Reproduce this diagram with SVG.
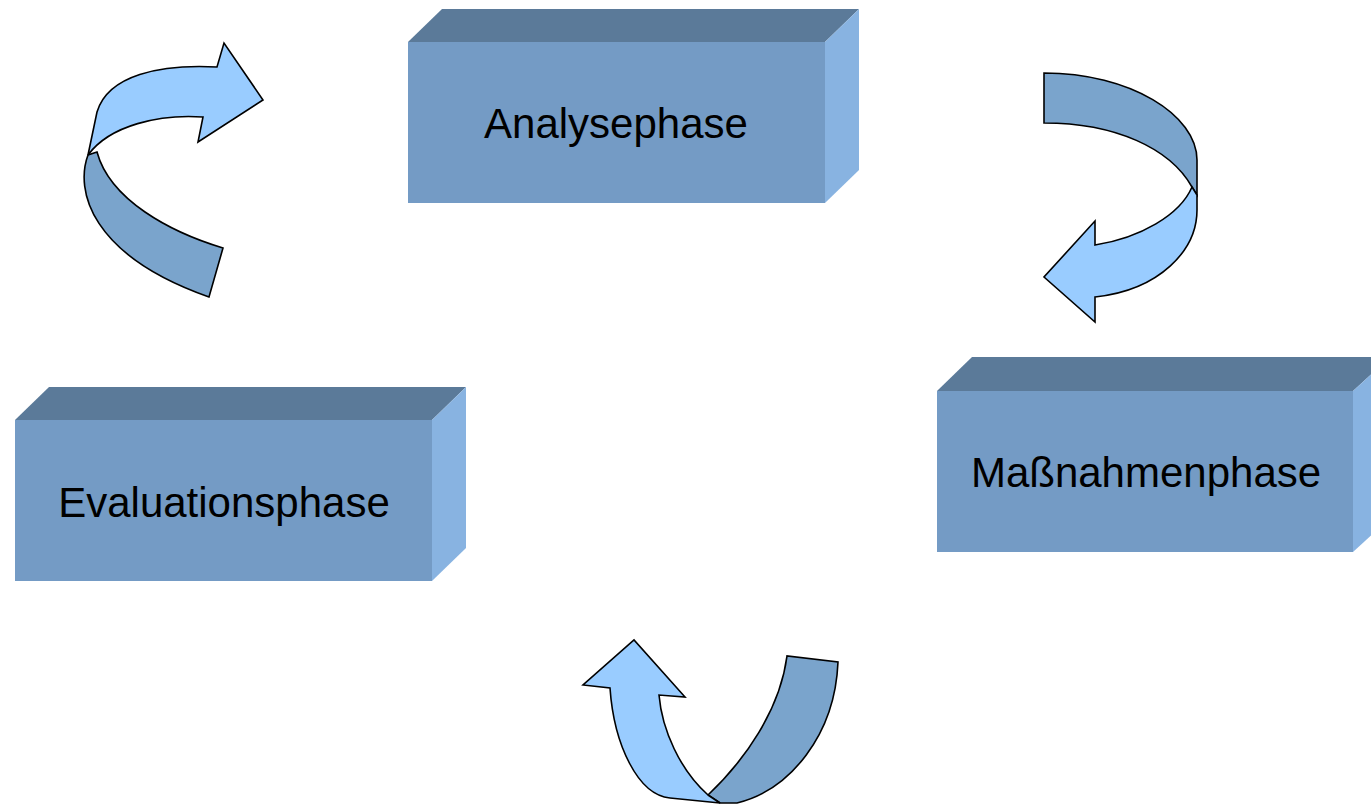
<svg xmlns="http://www.w3.org/2000/svg" width="1371" height="805" viewBox="0 0 1371 805">
<style>
.front{fill:#749BC5}
.top{fill:#5B7A99}
.side{fill:#88B3E1}
.lbl{font-family:"Liberation Sans",Arial,sans-serif;font-size:42px;fill:#000;text-anchor:middle}
.lt{fill:#99CCFF;stroke:#000;stroke-width:1.6;stroke-linejoin:miter}
.dk{fill:#7AA4CC;stroke:#000;stroke-width:1.6;stroke-linejoin:miter}
</style>
<rect width="1371" height="805" fill="#fff"/>
<g id="analysephase">
<polygon class="top" points="408,42 442,9 859,9 825,42"/>
<polygon class="side" points="825,42 859,9 859,170 825,203"/>
<rect class="front" x="408" y="42" width="417" height="161"/>
<text class="lbl" x="616" y="138">Analysephase</text>
</g>
<g id="massnahmenphase">
<polygon class="top" points="937,391 972,357 1390,357 1353,391"/>
<polygon class="side" points="1353,391 1390,357 1390,518 1353,552"/>
<rect class="front" x="937" y="391" width="416" height="161"/>
<text class="lbl" x="1146" y="487">Maßnahmenphase</text>
</g>
<g id="evaluationsphase">
<polygon class="top" points="15,420 49,387 466,387 432,420"/>
<polygon class="side" points="432,420 466,387 466,548 432,581"/>
<rect class="front" x="15" y="420" width="417" height="161"/>
<text class="lbl" x="224" y="517">Evaluationsphase</text>
</g>
<g id="connectors">
<g id="arrow-eval-analyse">
<path class="dk" d="M 88,155 C 75,190 90,255 209,297 L 223,248 C 170,232 110,200 97,152 Z"/>
<path class="lt" d="M 97,112 C 108,75 160,64 217,67 L 224,43 L 263,100 L 198,142 L 203,117 C 160,114 110,125 88,155 Z"/>
</g>
<g id="arrow-analyse-massnahmen">
<path class="dk" d="M 1044,73 C 1130,73 1197,115 1197,160 L 1197,195 L 1192,187 C 1170,148 1115,123 1044,123 Z"/>
<path class="lt" d="M 1192,187 C 1180,215 1140,238 1095,245 L 1095,221 L 1044,277 L 1095,322 L 1095,297 C 1160,290 1197,250 1197,210 L 1197,195 Z"/>
</g>
<g id="arrow-massnahmen-eval">
<path class="dk" d="M 708,795 C 745,760 780,710 787,656 L 838,662 C 835,735 790,790 737,803 L 720,803 Z"/>
<path class="lt" d="M 610,688 C 614,745 638,795 670,798 L 720,803 L 708,795 C 680,770 662,730 659,695 L 685,697 L 634,640 L 583,685 Z"/>
</g>
</g>
</svg>
